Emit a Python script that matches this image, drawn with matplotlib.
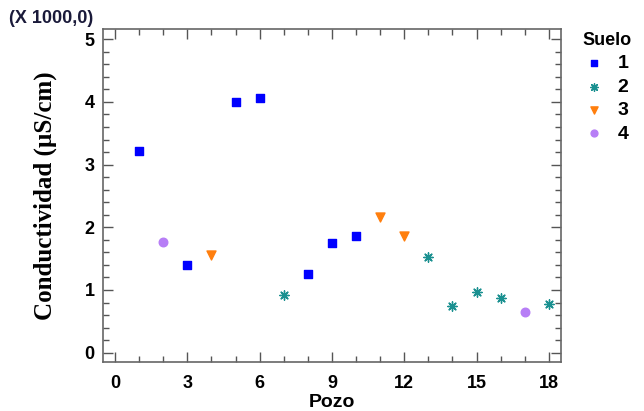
import matplotlib
matplotlib.use("Agg")
import matplotlib.pyplot as plt
from matplotlib.ticker import MultipleLocator

# Pozo / conductividad (uS/cm) por tipo de suelo
pozo_s1 = [1, 3, 5, 6, 8, 9, 10]
cond_s1 = [3220, 1400, 4000, 4070, 1260, 1745, 1865]

pozo_s2 = [7, 13, 14, 15, 16, 18]
cond_s2 = [925, 1520, 745, 963, 880, 770]

pozo_s3 = [4, 11, 12]
cond_s3 = [1560, 2160, 1860]

pozo_s4 = [2, 17]
cond_s4 = [1770, 650]

suelos = ["1", "2", "3", "4"]

plt.rcParams["font.family"] = ["Liberation Sans", "DejaVu Sans"]

fig = plt.figure(figsize=(6.44, 4.11), dpi=100)
ax = fig.add_axes([0.160, 0.119, 0.711, 0.810])

ax.scatter(pozo_s1, [v / 1000 for v in cond_s1], marker="s", s=38,
           color="#0000ff", label=suelos[0], zorder=3)
ax.scatter(pozo_s2, [v / 1000 for v in cond_s2], marker=(8, 2, 0), s=45,
           color="#1a9090", linewidths=1.0, label=suelos[1], zorder=3)
ax.scatter(pozo_s3, [v / 1000 for v in cond_s3], marker="v", s=42,
           color="#ff7f0e", label=suelos[2], zorder=3)
ax.scatter(pozo_s4, [v / 1000 for v in cond_s4], marker="o", s=38,
           color="#b77ef6", label=suelos[3], zorder=3)

ax.set_xlim(-0.5, 18.5)
ax.set_ylim(-0.15, 5.16)

ax.xaxis.set_major_locator(MultipleLocator(3))
ax.xaxis.set_minor_locator(MultipleLocator(1))
ax.yaxis.set_major_locator(MultipleLocator(1))
ax.yaxis.set_minor_locator(MultipleLocator(0.2))

ax.tick_params(which="both", direction="in", top=True, right=True,
               color="#555555")
ax.tick_params(which="major", length=7, width=1.0, labelsize=13)
ax.tick_params(which="minor", length=4, width=1.0)
ax.tick_params(axis="x", which="major", pad=9)
ax.tick_params(axis="y", which="major", pad=6)

for lab in ax.get_xticklabels() + ax.get_yticklabels():
    lab.set_fontweight("bold")

for sp in ax.spines.values():
    sp.set_color("#666666")
    sp.set_linewidth(1.2)

ax.set_xlabel("Pozo", fontsize=14, fontweight="bold", labelpad=2)
ax.set_ylabel("Conductividad (µS/cm)", fontsize=18, fontweight="bold",
              family=["Liberation Serif", "DejaVu Serif"], labelpad=20)

fig.text(0.014, 0.945, "(X 1000,0)", fontsize=13, fontweight="bold",
         color="#1a1a3a")

leg = fig.legend(title="Suelo", loc="upper left",
                 bbox_to_anchor=(575 / 644, 1 - 24 / 411),
                 bbox_transform=fig.transFigure, borderaxespad=0,
                 frameon=False, prop={"weight": "bold", "size": 14},
                 title_fontproperties={"weight": "bold", "size": 13},
                 handlelength=0.8, handletextpad=0.8, labelspacing=0.3,
                 markerscale=0.8)

fig.savefig("out.png", dpi=100)
